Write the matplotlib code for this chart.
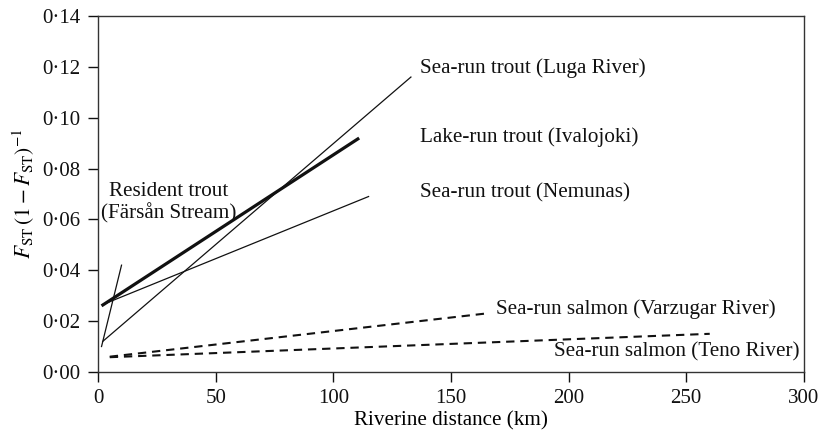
import numpy as np
import matplotlib.pyplot as plt
from matplotlib.ticker import FuncFormatter

plt.rcParams['font.family'] = ['Liberation Serif', 'DejaVu Serif']
plt.rcParams['mathtext.fontset'] = 'stix'

# regression lines: start / end (km, Fst/(1-Fst))
names = ['Resident trout', 'Luga', 'Ivalojoki', 'Nemunas', 'Varzugar', 'Teno']
x_start = [1.5, 2.0, 1.5, 2.0, 5.0, 5.0]
x_end = [10.0, 133.0, 111.0, 115.0, 165.0, 260.0]
y_start = [0.010, 0.012, 0.026, 0.0265, 0.0060, 0.0058]
y_end = [0.042, 0.116, 0.092, 0.069, 0.023, 0.015]
styles = ['thin', 'thin', 'thick', 'thin', 'dash', 'dash']

label_text = ['Resident trout\n(Färsån Stream)', 'Sea-run trout (Luga River)',
              'Lake-run trout (Ivalojoki)', 'Sea-run trout (Nemunas)',
              'Sea-run salmon (Varzugar River)', 'Sea-run salmon (Teno River)']
label_x = [30, 137, 137, 137, 169, 298]
label_y = [0.0665, 0.1195, 0.0925, 0.0705, 0.0247, 0.0078]
label_ha = ['center', 'left', 'left', 'left', 'left', 'right']

xticks = [0, 50, 100, 150, 200, 250, 300]
yticks = [0.00, 0.02, 0.04, 0.06, 0.08, 0.10, 0.12, 0.14]

fig = plt.figure(figsize=(8.27, 4.33), dpi=100)
ax = fig.add_axes([0.1185, 0.141, 0.8535, 0.822])

for i in range(len(names)):
    xs = [x_start[i], x_end[i]]
    ys = [y_start[i], y_end[i]]
    if styles[i] == 'thick':
        ax.plot(xs, ys, color='#111111', lw=2.3, solid_capstyle='butt')
    elif styles[i] == 'dash':
        ax.plot(xs, ys, color='#111111', lw=1.5, dashes=(4, 2.8))
    else:
        ax.plot(xs, ys, color='#111111', lw=0.9)

for i in range(len(label_text)):
    ax.text(label_x[i], label_y[i], label_text[i], ha=label_ha[i], va='center',
            fontsize=15.2, color='#111111', linespacing=1.15)

ax.set_xlim(0, 300)
ax.set_ylim(0, 0.14)
ax.set_xticks(xticks)
ax.set_yticks(yticks)
ax.yaxis.set_major_formatter(FuncFormatter(lambda v, p: f'{v:.2f}'.replace('.', '·')))
ax.tick_params(direction='out', length=7.5, width=1, labelsize=15, colors='#111111', pad=5)
for s in ax.spines.values():
    s.set_linewidth(1.0)
    s.set_color('#333333')

ax.set_xlabel('Riverine distance (km)', fontsize=15.2, labelpad=2)
ax.set_ylabel(r'$F_{\mathrm{ST}}\,(1 - F_{\mathrm{ST}})^{-1}$', fontsize=15.5, labelpad=4)

fig.savefig('out.png', dpi=100)
